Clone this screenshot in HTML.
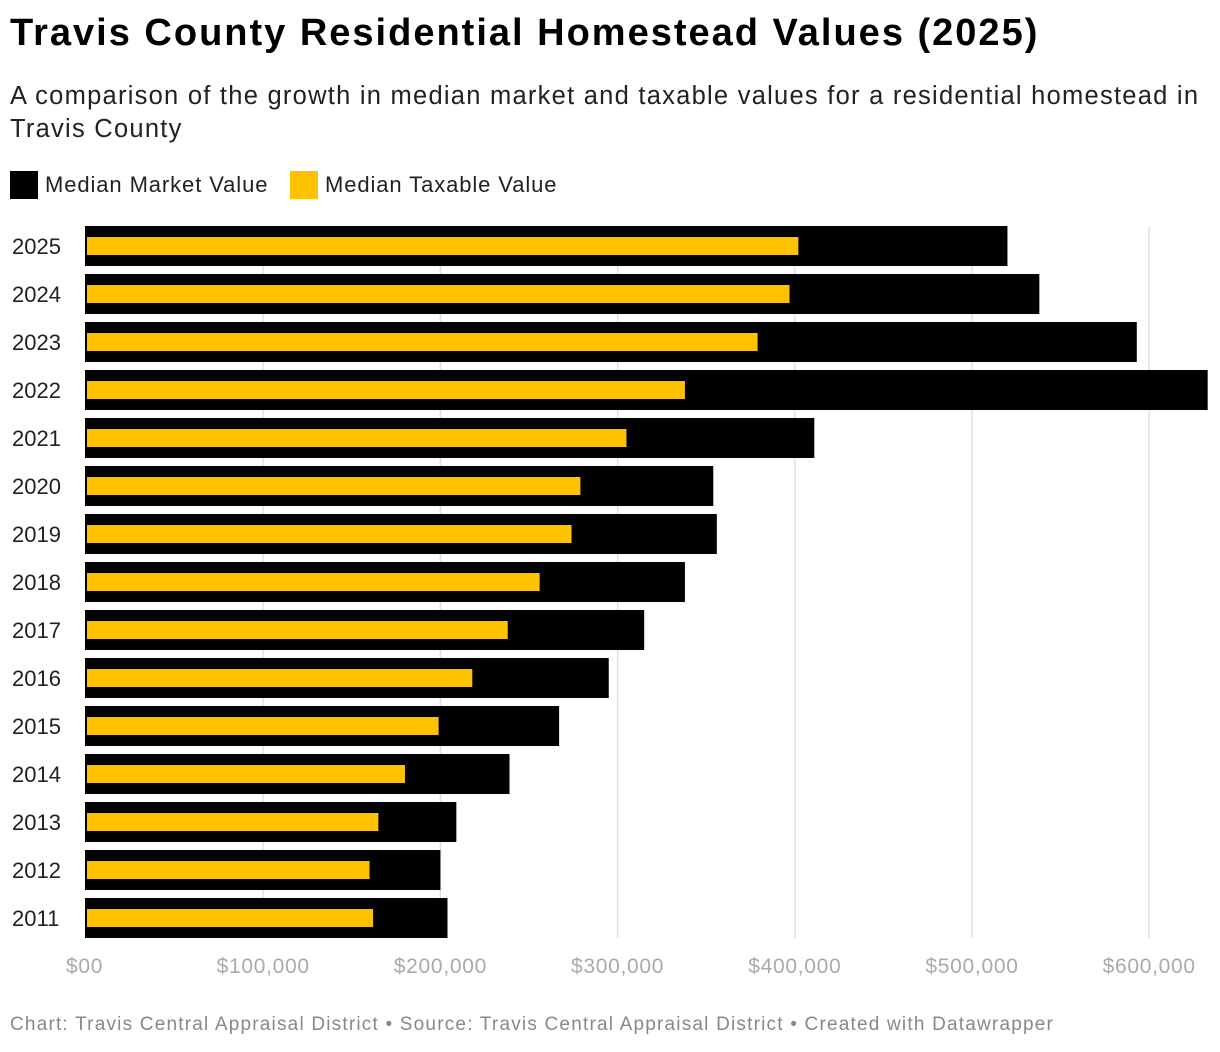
<!DOCTYPE html>
<html><head><meta charset="utf-8"><style>
body{margin:0;background:#fff;font-family:"Liberation Sans",Arial,sans-serif;}
#wrap{position:relative;width:1220px;height:1052px;overflow:hidden;}
h1{position:absolute;left:10px;top:12px;margin:0;font-size:38px;font-weight:bold;color:#000;letter-spacing:2px;}
.sub{position:absolute;left:10px;top:80px;width:1215px;font-size:25.5px;line-height:33px;color:#222;letter-spacing:1.25px;white-space:nowrap;}
.leg{position:absolute;top:171px;font-size:22px;color:#222;display:flex;align-items:center;letter-spacing:0.9px;}
.sw{width:28px;height:28px;margin-right:7px;}
.foot{position:absolute;left:10px;top:1014px;font-size:19px;color:#888;letter-spacing:1.2px;}
</style></head><body><div id="wrap">
<h1>Travis County Residential Homestead Values (2025)</h1>
<div class="sub">A comparison of the growth in median market and taxable values for a residential homestead in<br>Travis County</div>
<div class="leg" style="left:10px"><div class="sw" style="background:#000"></div>Median Market Value</div>
<div class="leg" style="left:290px"><div class="sw" style="background:#ffc200"></div>Median Taxable Value</div>
<svg id="plot" width="1220" height="1052" style="position:absolute;left:0;top:0"></svg>
<div class="foot">Chart: Travis Central Appraisal District • Source: Travis Central Appraisal District • Created with Datawrapper</div>
</div>
<script>
const years=["2025","2024","2023","2022","2021","2020","2019","2018","2017","2016","2015","2014","2013","2012","2011"];
const marketValues=[520000,538000,593000,633000,411000,354000,356000,338000,315000,295000,267000,239000,209000,200000,204000];
const taxableValues=[402000,397000,379000,338000,305000,279000,274000,256000,238000,218000,199000,180000,165000,160000,162000];
const tickValues=[0,100000,200000,300000,400000,500000,600000];
const tickLabels=["$00","$100,000","$200,000","$300,000","$400,000","$500,000","$600,000"];
const NS="http://www.w3.org/2000/svg";
const svg=document.getElementById('plot');
const x0=86,pxPer=177.2/100000,xMax=1208;
const xs=v=>Math.min(x0+v*pxPer,xMax);
const rowTop=i=>226+i*48;
function mk(tag,attrs){const e=document.createElementNS(NS,tag);for(const k in attrs)e.setAttribute(k,attrs[k]);svg.appendChild(e);return e;}
tickValues.forEach((v,i)=>{
  if(i>0){const g=mk('line',{x1:xs(v),x2:xs(v),y1:226,y2:938,stroke:'#e0e0e0','stroke-width':1.5});
  
  }
  const t=mk('text',{x:i==0?66:xs(v),y:973,'text-anchor':i==0?'start':'middle','font-size':21,fill:'#aaa','letter-spacing':0.7,'font-family':'Liberation Sans, sans-serif'});
  t.textContent=tickLabels[i];
  
  
});
years.forEach((y,i)=>{
  const top=rowTop(i);
  const b=mk('rect',{x:85,y:top,width:xs(marketValues[i])-85,height:40,fill:'#000'});
  
  
  const yb=mk('rect',{x:87,y:top+11,width:xs(taxableValues[i])-87,height:18,fill:'#ffc200'});
  
  
  const t=mk('text',{x:12,y:top+28,'font-size':22,fill:'#222','font-family':'Liberation Sans, sans-serif'});
  t.textContent=y;
  
  
});
</script></body></html>
